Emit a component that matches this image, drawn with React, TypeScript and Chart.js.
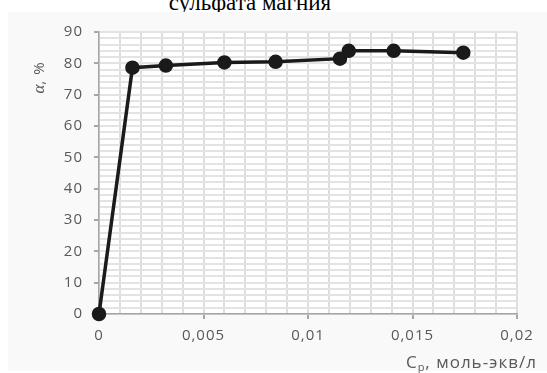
import React, { useEffect, useRef } from "react";
import { Chart, registerables } from "chart.js";

Chart.register(...registerables);

const concentrations = [0, 0.0016, 0.0032, 0.006, 0.00845, 0.01153, 0.01195, 0.0141, 0.01743];
const degrees = [0, 78.6, 79.3, 80.3, 80.5, 81.5, 84.0, 84.0, 83.4];
const xLabelEvery = 0.005;
const yLabelEvery = 10;
const titleText = "сульфата магния";
const yTitle = ["α", ", %"];
const xTitle = ["C", "р", ", моль-экв/л"];

const TICK_FONT = "'Open Sans', sans-serif";
const GRAY_TEXT = "#595959";

const axisTitles = {
  id: "axisTitles",
  beforeDraw(chart: any) {
    const { ctx, chartArea } = chart;
    ctx.save();
    ctx.fillStyle = "#ffffff";
    ctx.fillRect(chartArea.left, chartArea.top, chartArea.right - chartArea.left, chartArea.bottom - chartArea.top);
    ctx.restore();
    (ctx as any).letterSpacing = "1px";
  },
  afterDraw(chart: any) {
    const { ctx } = chart;
    (ctx as any).letterSpacing = "0px";
    ctx.save();
    ctx.fillStyle = GRAY_TEXT;
    // y title
    ctx.translate(40, 77.5);
    ctx.rotate(-Math.PI / 2);
    ctx.textBaseline = "middle";
    ctx.font = "italic 17px 'Liberation Serif', serif";
    const w1 = ctx.measureText(yTitle[0]).width;
    ctx.font = `15px ${TICK_FONT}`;
    (ctx as any).letterSpacing = "1px";
    const w2 = ctx.measureText(yTitle[1]).width;
    const x0 = -(w1 + w2) / 2;
    ctx.textAlign = "left";
    ctx.font = "italic 17px 'Liberation Serif', serif";
    (ctx as any).letterSpacing = "0px";
    ctx.fillText(yTitle[0], x0, 0);
    ctx.font = `15px ${TICK_FONT}`;
    (ctx as any).letterSpacing = "1px";
    ctx.fillText(yTitle[1], x0 + w1, 0);
    ctx.restore();

    // x title
    ctx.save();
    ctx.fillStyle = GRAY_TEXT;
    ctx.textBaseline = "alphabetic";
    ctx.textAlign = "left";
    (ctx as any).letterSpacing = "1px";
    ctx.font = `17px ${TICK_FONT}`;
    const a = ctx.measureText(xTitle[0]).width;
    ctx.font = `11px ${TICK_FONT}`;
    const b = ctx.measureText(xTitle[1]).width;
    ctx.font = `17px ${TICK_FONT}`;
    const c = ctx.measureText(xTitle[2]).width;
    const right = 537;
    const base = 368;
    const sx = right - (a + b + c);
    ctx.fillText(xTitle[0], sx, base);
    ctx.font = `11px ${TICK_FONT}`;
    ctx.fillText(xTitle[1], sx + a, base + 3);
    ctx.font = `17px ${TICK_FONT}`;
    ctx.fillText(xTitle[2], sx + a + b, base);
    ctx.restore();
    (ctx as any).letterSpacing = "0px";
  },
};

export default function App() {
  const ref = useRef<HTMLCanvasElement | null>(null);

  useEffect(() => {
    if (!ref.current) return;
    const points = concentrations.map((x, i) => ({ x, y: degrees[i] }));
    const chart = new Chart(ref.current, {
      type: "scatter",
      data: {
        datasets: [
          {
            data: points,
            showLine: true,
            clip: false,
            borderColor: "#1a1a1a",
            backgroundColor: "#1a1a1a",
            borderWidth: 3.5,
            pointRadius: 5.5,
            pointHoverRadius: 5.5,
          },
        ],
      },
      options: {
        responsive: false,
        animation: false,
        devicePixelRatio: 1,
        layout: { padding: { top: 32, right: 30, left: 0, bottom: 0 } },
        plugins: { legend: { display: false }, tooltip: { enabled: false } },
        scales: {
          x: {
            type: "linear",
            min: 0,
            max: 0.02,
            afterFit: (s: any) => {
              s.height = 59;
            },
            border: { color: "#a6a6a6", width: 1.5 },
            grid: {
              color: "#dedede",
              lineWidth: 2,
              tickLength: 5,
              tickColor: (c: any) =>
                Math.round(c.tick.value * 1000) % Math.round(xLabelEvery * 1000) === 0 ? "#a6a6a6" : "rgba(0,0,0,0)",
            },
            ticks: {
              stepSize: 0.001,
              autoSkip: false,
              maxRotation: 0,
              padding: 8,
              color: GRAY_TEXT,
              font: { family: TICK_FONT, size: 15 },
              callback: (v: any) => {
                const n = Math.round(Number(v) * 1000);
                if (n % Math.round(xLabelEvery * 1000) !== 0) return "";
                const val = n / 1000;
                return String(val).replace(".", ",");
              },
            },
          },
          y: {
            min: 0,
            max: 90,
            afterFit: (s: any) => {
              s.width = 99;
            },
            border: { color: "#a6a6a6", width: 1.5 },
            grid: {
              color: "#e3e3e3",
              lineWidth: 2,
              tickLength: 5,
              tickColor: (c: any) => (c.tick.value % yLabelEvery === 0 ? "#a6a6a6" : "rgba(0,0,0,0)"),
            },
            ticks: {
              stepSize: 2,
              autoSkip: false,
              padding: 11,
              color: GRAY_TEXT,
              font: { family: TICK_FONT, size: 15 },
              callback: (v: any) => (Number(v) % yLabelEvery === 0 ? String(v) : ""),
            },
          },
        },
      },
      plugins: [axisTitles],
    });
    return () => chart.destroy();
  }, []);

  return (
    <div style={{ position: "fixed", left: 0, top: 0, width: 547, height: 373, background: "#ffffff", overflow: "hidden" }}>
      <div
        style={{
          position: "absolute",
          left: 0,
          width: 500,
          top: -9,
          textAlign: "center",
          fontFamily: "'Liberation Serif', serif",
          fontSize: 23,
          lineHeight: "23px",
          color: "#000",
          zIndex: 0,
        }}
      >
        {titleText}
      </div>
      <div style={{ position: "absolute", left: 8, top: 12, right: 0, bottom: 2, background: "#f9f9f9", zIndex: 1 }} />
      <canvas ref={ref} width={547} height={373} style={{ position: "absolute", left: 0, top: 0, width: 547, height: 373, zIndex: 2 }} />
    </div>
  );
}
